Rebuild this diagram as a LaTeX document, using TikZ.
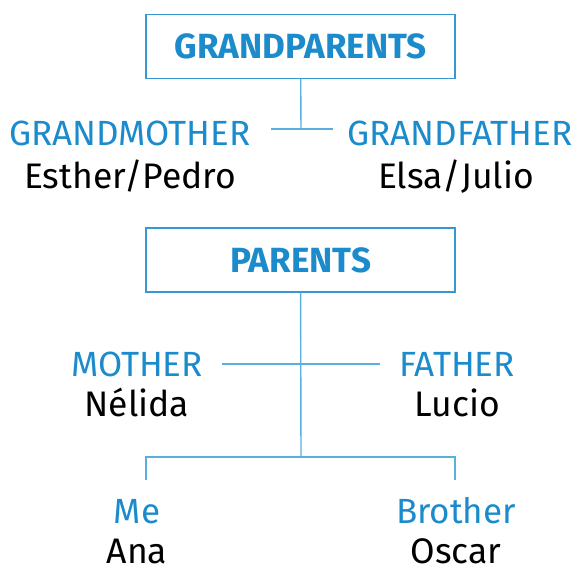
\documentclass[tikz,border=0pt]{standalone}
\usepackage{fontspec}
\setmainfont{Fira Sans}
\definecolor{txtblue}{HTML}{1B8BCC}
\definecolor{lineblue}{HTML}{5AAEE0}
\definecolor{boxblue}{HTML}{3796D4}
\begin{document}
\begin{tikzpicture}[
x=1pt, y=-1pt,
box/.style = {draw=boxblue,line width=1.3pt,minimum width=309pt,minimum height=64pt,inner sep=0pt,
  text=txtblue,font=\fontsize{35}{40}\selectfont\bfseries},
rel/.style = {anchor=base,inner sep=0pt,text=txtblue,font=\fontsize{35}{40}\selectfont},
pers/.style = {anchor=base,inner sep=0pt,text=black,font=\fontsize{35.5}{40}\selectfont},
edge/.style = {lineblue,line width=1.4pt}
]
  \useasboundingbox (0,0) rectangle (576,568);

  \node[box] (gp) at (300.5,46.5) {GRANDPARENTS};
  \node[rel] (gm) at (130,145) {GRANDMOTHER};
  \node[pers] (gmn) at (130,188) {Esther/Pedro};
  \node[rel] (gf) at (460,145) {GRANDFATHER};
  \node[pers] (gfn) at (456,188) {Elsa/Julio};

  \node[box] (par) at (300.5,260) {PARENTS};
  \node[rel] (mo) at (137,376) {MOTHER};
  \node[pers] (mon) at (137,416) {Nélida};
  \node[rel] (fa) at (457,376) {FATHER};
  \node[pers] (fan) at (457,416) {Lucio};

  \node[rel] (me) at (137,523) {Me};
  \node[pers] (men) at (137,563) {Ana};
  \node[rel] (br) at (456,523) {Brother};
  \node[pers] (brn) at (456,563) {Oscar};

  \coordinate (gj) at (301,129);
  \coordinate (gl) at (271,129);
  \coordinate (gr) at (333,129);
  \coordinate (pj) at (301,457);
  \coordinate (pl) at (222,364);
  \coordinate (pr) at (380,364);
  \coordinate (cl) at (146,480);
  \coordinate (cr) at (455,480);

  \draw[edge] (gp) -- (gj);
  \draw[edge] (gl) -- (gr);
  \draw[edge] (par) -- (pj);
  \draw[edge] (pl) -- (pr);
  \draw[edge] (cl) |- (pj) -| (cr);
\end{tikzpicture}
\end{document}
